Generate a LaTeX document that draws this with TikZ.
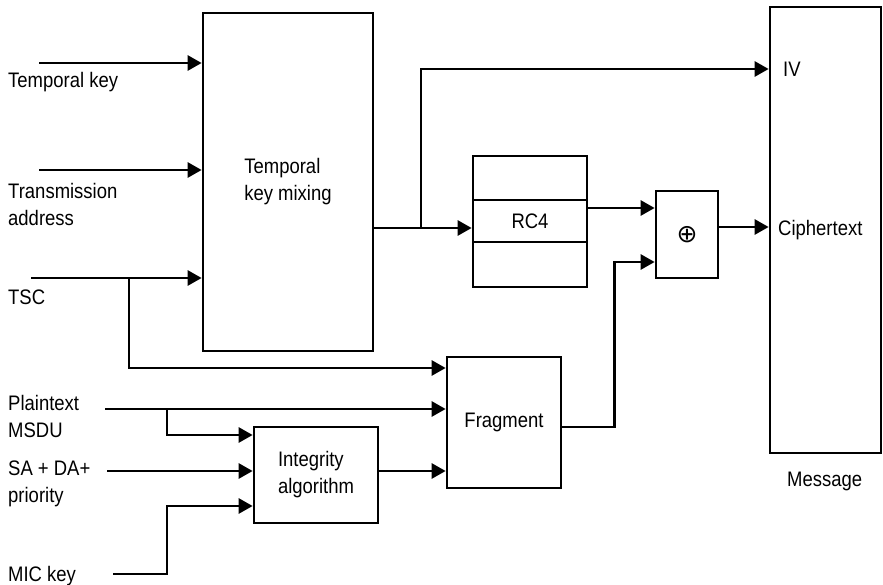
\documentclass[tikz,border=0pt]{standalone}
\usepackage{fontspec}
\setmainfont[FakeStretch=0.88]{Liberation Sans}
\newfontfamily\symfont{DejaVu Sans}
\usetikzlibrary{arrows.meta,positioning,calc}
\newcommand{\lblfont}{\fontsize{21}{27}\selectfont}

\begin{document}
\begin{tikzpicture}[
  x=1pt, y=-1pt,
  box/.style={draw, line width=2.7pt, align=left, inner sep=0pt, font=\lblfont},
  lbl/.style={anchor=base west, align=left, inner sep=0pt, font=\lblfont},
  arrow/.style={-{Triangle[length=14pt,width=15pt]}, line width=2.7pt}
]
\useasboundingbox (0,0) rectangle (883,585);

\node[box, minimum width=170, minimum height=338] (tkm) at (288,182) {Temporal\\key mixing};
\node[box, minimum width=114, minimum height=42, outer sep=0pt] (rc4) at (530,221) {RC4};
\node[box, minimum width=114, minimum height=44, outer sep=0pt, anchor=south] (rc4top) at (rc4.north) {};
\node[box, minimum width=114, minimum height=45, outer sep=0pt, anchor=north] (rc4bot) at (rc4.south) {};
\node[box, minimum width=62, minimum height=87, font=\symfont\fontsize{25}{25}\selectfont] (xor) at (687,234.5) {⊕};
\node[box, minimum width=111, minimum height=446] (msg) at (825.5,230) {};
\node[box, minimum width=114, minimum height=131] (frag) at (504,422.5) {Fragment};
\node[box, minimum width=124, minimum height=96] (integ) at (316,475) {Integrity\\algorithm};

\node[lbl] (lbltk) at (8,88) {Temporal key};
\node[lbl] (lblta) at (8,226) {Transmission\\address};
\node[lbl] (lbltsc) at (8,305) {TSC};
\node[lbl] (lblpt) at (8,437) {Plaintext\\MSDU};
\node[lbl] (lblsa) at (8,502) {SA + DA+\\priority};
\node[lbl] (lblmic) at (8,581) {MIC key};
\node[lbl] (lbliv) at (783,77) {IV};
\node[lbl] (lblct) at (778,236) {Ciphertext};
\node[lbl] (lblmsg) at (787,486) {Message};

\coordinate (tkin) at (39,63);
\coordinate (tain) at (39,170);
\coordinate (tscin) at (31,278);
\coordinate (tscj) at (129,278);
\coordinate (ptin) at (105,409);
\coordinate (ptj) at (167,409);
\coordinate (sain) at (107,471);
\coordinate (micin) at (113,574);
\coordinate (ivj) at (421,228);

\draw[arrow] (tkin) -- (tkin -| tkm.west);
\draw[arrow] (tain) -- (tain -| tkm.west);
\draw[arrow] (tscin) -- (tscin -| tkm.west);
\draw[arrow] (tscj) |- ([yshift=54.5pt]frag.west);
\draw[arrow] (ptin) -- (ptin -| frag.west);
\draw[arrow] (ptj) |- ([yshift=40pt]integ.west);
\draw[arrow] (sain) -- (sain -| integ.west);
\draw[arrow] (micin) -- ++(54,0) |- ([yshift=-31pt]integ.west);
\draw[arrow] ([yshift=4pt]integ.east) -- ([yshift=4pt]integ.east -| frag.west);
\draw[arrow] ([yshift=-4.5pt]frag.east) -- ++(52,0) |- ([yshift=-27.5pt]xor.west);
\draw[arrow] ([yshift=-46pt]tkm.east) -- ([xshift=-1.35pt]ivj -| rc4.west);
\draw[arrow] (ivj) |- ([yshift=161pt]msg.west);
\draw[arrow] ([yshift=13pt,xshift=1.35pt]rc4.east) -- ([yshift=13pt]rc4.east -| xor.west);
\draw[arrow] ([yshift=7.5pt]xor.east) -- ([yshift=7.5pt]xor.east -| msg.west);
\end{tikzpicture}
\end{document}
